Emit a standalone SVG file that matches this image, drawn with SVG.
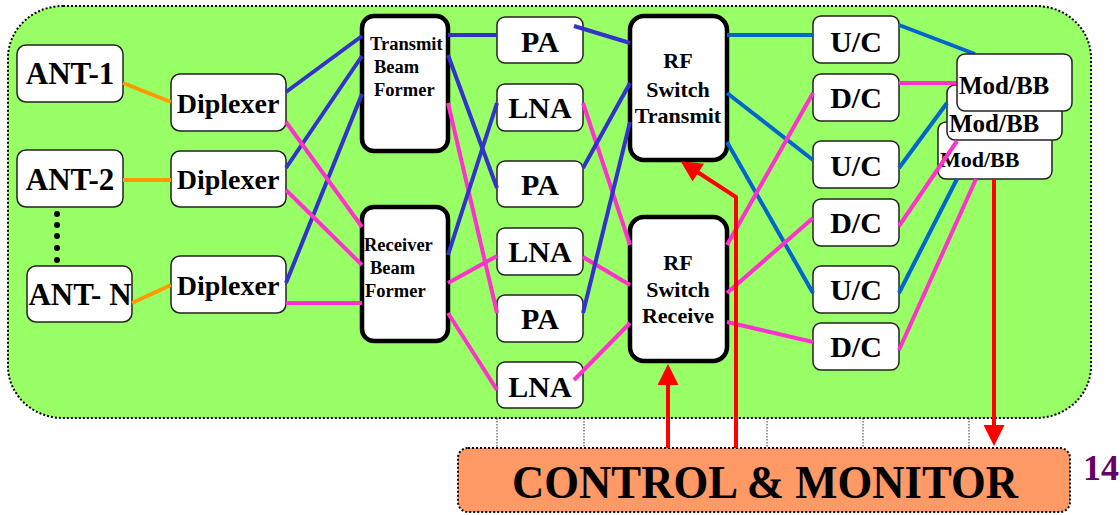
<svg xmlns="http://www.w3.org/2000/svg" width="1120" height="515" viewBox="0 0 1120 515" font-family="'Liberation Serif', 'Times New Roman', serif">
<defs>
<style>
.bg{fill:#99FF66;stroke:#000;stroke-width:2;stroke-dasharray:2 2}
.n{fill:#fff;stroke:#222;stroke-width:1.5}
.k{fill:#fff;stroke:#000;stroke-width:4.5}
.t{font-family:"Liberation Serif","Times New Roman",serif;font-weight:bold;fill:#000}
.c30{font-family:"Liberation Serif","Times New Roman",serif;font-size:30px;text-anchor:middle}
.c28{font-family:"Liberation Serif","Times New Roman",serif;font-size:28px;text-anchor:middle}
.c22{font-family:"Liberation Serif","Times New Roman",serif;font-size:22px;text-anchor:middle}
.s18{font-family:"Liberation Serif","Times New Roman",serif;font-size:18.5px}
.o{stroke:#FF9900;stroke-width:4;fill:none}
.b{stroke:#3333CC;stroke-width:4;fill:none}
.p{stroke:#FF33CC;stroke-width:4;fill:none}
.u{stroke:#0066CC;stroke-width:4;fill:none}
.r{stroke:#FF0000;stroke-width:4;fill:none}
.dl{stroke:#000;stroke-width:0.8;stroke-dasharray:1.5 1.5}
</style>
<marker id="ah" viewBox="0 0 10 10" refX="0.5" refY="5" markerWidth="22" markerHeight="21" markerUnits="userSpaceOnUse" orient="auto">
<path d="M0,0 L10,5 L0,10 z" fill="#FF0000"/>
</marker>
</defs>

<rect class="bg" x="8" y="6" width="1083" height="412" rx="55" ry="52"/>

<g id="ticks">
<line class="dl" x1="497" y1="418" x2="497" y2="448"/>
<line class="dl" x1="584" y1="418" x2="584" y2="448"/>
<line class="dl" x1="767" y1="418" x2="767" y2="448"/>
<line class="dl" x1="863" y1="418" x2="863" y2="448"/>
<line class="dl" x1="969" y1="418" x2="969" y2="448"/>
</g>

<g id="control">
<rect x="458" y="448" width="612" height="64" rx="10" fill="#FF9966" stroke="#000" stroke-width="2" stroke-dasharray="2 2"/>
<text class="t" x="765" y="498" font-size="46" text-anchor="middle" textLength="506" lengthAdjust="spacingAndGlyphs">CONTROL &amp; MONITOR</text>
</g>
<text id="pagenum" class="t" x="1083" y="480" font-size="36" style="fill:#660066">14</text>

<g id="ant1"><rect class="n" x="17" y="45" width="106" height="57" rx="9"/><text class="t c30" x="70" y="84" style="font-size:31px">ANT-1</text></g>
<g id="ant2"><rect class="n" x="17" y="150" width="106" height="57" rx="9"/><text class="t c30" x="70" y="190" style="font-size:31px">ANT-2</text></g>
<g id="antN"><rect class="n" x="27" y="266" width="105" height="56" rx="9"/><text class="t c30" x="80" y="305" style="font-size:31px">ANT- N</text></g>
<g id="dots" fill="#000">
<circle cx="57" cy="214" r="3"/><circle cx="57" cy="225" r="3"/><circle cx="57" cy="236" r="3"/><circle cx="57" cy="248" r="3"/><circle cx="57" cy="260" r="3"/>
</g>

<g id="dip1"><rect class="n" x="171" y="74" width="115" height="57" rx="9"/><text class="t c28" x="228" y="113">Diplexer</text></g>
<g id="dip2"><rect class="n" x="171" y="151" width="115" height="56" rx="9"/><text class="t c28" x="228" y="189">Diplexer</text></g>
<g id="dip3"><rect class="n" x="171" y="256" width="115" height="57" rx="9"/><text class="t c28" x="228" y="295">Diplexer</text></g>

<g id="txbf"><rect class="k" x="362" y="16" width="86" height="135" rx="12"/>
<text class="t s18" x="370" y="50">Transmit</text><text class="t s18" x="374" y="73">Beam</text><text class="t s18" x="374" y="96">Former</text></g>
<g id="rxbf"><rect class="k" x="362" y="207" width="86" height="134" rx="12"/>
<text class="t s18" x="364" y="251">Receiver</text><text class="t s18" x="370" y="274">Beam</text><text class="t s18" x="365" y="297">Former</text></g>

<g id="pa1"><rect class="n" x="497" y="17" width="86" height="46" rx="8"/><text class="t c30" x="540" y="52">PA</text></g>
<g id="lna1"><rect class="n" x="497" y="84" width="86" height="47" rx="8"/><text class="t c30" x="540" y="118">LNA</text></g>
<g id="pa2"><rect class="n" x="497" y="161" width="86" height="46" rx="8"/><text class="t c30" x="540" y="195">PA</text></g>
<g id="lna2"><rect class="n" x="497" y="228" width="86" height="47" rx="8"/><text class="t c30" x="540" y="262">LNA</text></g>
<g id="pa3"><rect class="n" x="497" y="295" width="86" height="47" rx="8"/><text class="t c30" x="540" y="329">PA</text></g>
<g id="lna3"><rect class="n" x="497" y="362" width="86" height="46" rx="8"/><text class="t c30" x="540" y="397">LNA</text></g>

<g id="rftx"><rect class="k" x="630" y="16" width="97" height="144" rx="14"/>
<text class="t c22" x="678" y="68">RF</text><text class="t c22" x="678" y="97">Switch</text><text class="t c22" x="678" y="123">Transmit</text></g>
<g id="rfrx"><rect class="k" x="630" y="217" width="97" height="144" rx="14"/>
<text class="t c22" x="678" y="270">RF</text><text class="t c22" x="678" y="297">Switch</text><text class="t c22" x="678" y="323">Receive</text></g>

<g id="uc1"><rect class="n" x="813" y="16" width="86" height="47" rx="8"/><text class="t c30" x="856" y="52">U/C</text></g>
<g id="dc1"><rect class="n" x="813" y="74" width="86" height="47" rx="8"/><text class="t c30" x="856" y="108">D/C</text></g>
<g id="uc2"><rect class="n" x="813" y="141" width="86" height="47" rx="8"/><text class="t c30" x="856" y="176">U/C</text></g>
<g id="dc2"><rect class="n" x="813" y="199" width="86" height="47" rx="8"/><text class="t c30" x="856" y="233">D/C</text></g>
<g id="uc3"><rect class="n" x="813" y="266" width="86" height="47" rx="8"/><text class="t c30" x="856" y="300">U/C</text></g>
<g id="dc3"><rect class="n" x="813" y="323" width="86" height="47" rx="8"/><text class="t c30" x="856" y="357">D/C</text></g>

<g id="modbb3"><rect class="n" x="938" y="122" width="114" height="57" rx="8"/><text class="t" x="940" y="167" font-size="22">Mod/BB</text></g>
<g id="modbb2"><rect class="n" x="947" y="85" width="115" height="55" rx="8"/><text class="t" x="949" y="132" font-size="25">Mod/BB</text></g>

<g id="connectors">
<line class="o" x1="123" y1="83" x2="171" y2="102"/>
<line class="o" x1="123" y1="180" x2="171" y2="180"/>
<line class="o" x1="132" y1="303" x2="171" y2="285"/>

<line class="b" x1="286" y1="92" x2="362" y2="36"/>
<line class="b" x1="286" y1="168" x2="362" y2="56"/>
<line class="b" x1="286" y1="283" x2="362" y2="94"/>
<line class="p" x1="286" y1="122" x2="362" y2="227"/>
<line class="p" x1="286" y1="190" x2="362" y2="265"/>
<line class="p" x1="286" y1="303" x2="362" y2="303"/>

<line class="b" x1="448" y1="35" x2="497" y2="35"/>
<line class="b" x1="448" y1="55" x2="497" y2="188"/>
<line class="p" x1="448" y1="103" x2="497" y2="313"/>
<line class="b" x1="448" y1="255" x2="497" y2="103"/>
<line class="p" x1="448" y1="283" x2="497" y2="256"/>
<line class="p" x1="448" y1="313" x2="497" y2="390"/>

<line class="b" x1="574" y1="26" x2="630" y2="43"/>
<line class="p" x1="583" y1="103" x2="630" y2="245"/>
<line class="b" x1="583" y1="168" x2="630" y2="83"/>
<line class="p" x1="583" y1="257" x2="630" y2="285"/>
<line class="b" x1="583" y1="313" x2="630" y2="122"/>
<line class="p" x1="574" y1="380" x2="630" y2="323"/>

<line class="u" x1="727" y1="35" x2="813" y2="35"/>
<line class="u" x1="727" y1="93" x2="813" y2="160"/>
<line class="u" x1="727" y1="142" x2="813" y2="293"/>
<line class="p" x1="727" y1="245" x2="813" y2="93"/>
<line class="p" x1="727" y1="293" x2="813" y2="218"/>
<line class="p" x1="727" y1="322" x2="813" y2="342"/>

<line class="u" x1="899" y1="25" x2="975" y2="54"/>
<line class="p" x1="899" y1="83" x2="957" y2="83"/>
<line class="u" x1="899" y1="168" x2="947" y2="103"/>
<line class="p" x1="899" y1="226" x2="957" y2="141"/>
<line class="u" x1="899" y1="293" x2="957" y2="179"/>
<line class="p" x1="899" y1="350" x2="976" y2="179"/>
</g>

<g id="modbb1"><rect class="n" x="957" y="54" width="115" height="57" rx="8"/><text class="t" x="959" y="94" font-size="25">Mod/BB</text></g>

<g id="control-arrows">
<line class="r" x1="668" y1="448" x2="668" y2="384" marker-end="url(#ah)"/>
<path class="r" d="M736,448 V197 L697.4,172" marker-end="url(#ah)"/>
<line class="r" x1="994" y1="179" x2="994" y2="426" marker-end="url(#ah)"/>
</g>
</svg>
